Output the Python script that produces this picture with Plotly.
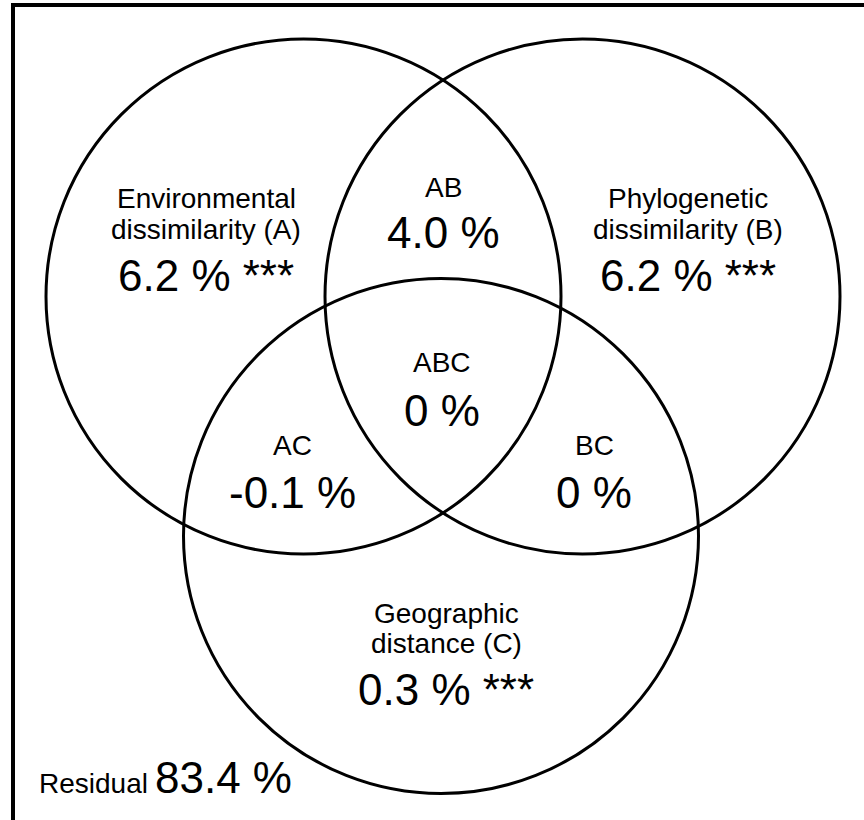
import plotly.graph_objects as go

# ---------------- data ----------------
region_ids = ["A", "B", "C", "AB", "AC", "BC", "ABC"]
region_titles = [
    ["Environmental", "dissimilarity (A)"],
    ["Phylogenetic", "dissimilarity (B)"],
    ["Geographic", "distance (C)"],
    ["AB"],
    ["AC"],
    ["BC"],
    ["ABC"],
]
region_values = [6.2, 6.2, 0.3, 4.0, -0.1, 0, 0]
region_signif = ["***", "***", "***", "", "", "", ""]
residual_label = "Residual"
residual_value = 83.4

# ---------------- layout (pixel frame) ----------------
W, H = 864, 820

circles = {"A": (303.5, 296.5), "B": (582.5, 296.5), "C": (441.0, 536.0)}
R = 257.5

# x centre, baselines of title lines, baseline of value line
text_pos = {
    "A": (206, [208, 239], 291),
    "B": (688, [208, 239], 291),
    "C": (446, [623, 653], 705),
    "AB": (443, [197], 248),
    "AC": (292, [455], 508),
    "BC": (594, [455], 508),
    "ABC": (442, [372], 425.5),
}
SMALL, BIG = 28.0, 44.0
FONT = "Liberation Sans, Arial, sans-serif"


def mid(baseline, size):
    return baseline - 0.3465 * size


def fmt(v):
    return "0" if v == 0 else f"{v:.1f}"


fig = go.Figure()
fig.add_trace(go.Scatter(x=[0, W], y=[0, H], mode="markers",
                         marker=dict(opacity=0), hoverinfo="skip", showlegend=False))

shapes = [dict(type="rect", xref="x", yref="y", x0=13, y0=5, x1=W + 9, y1=H + 16,
               line=dict(color="black", width=4), layer="above")]
for k, (cx, cy) in circles.items():
    shapes.append(dict(type="circle", xref="x", yref="y", x0=cx - R, x1=cx + R,
                       y0=cy - R, y1=cy + R, line=dict(color="black", width=3)))

annotations = []
for rid, titles, val, sig in zip(region_ids, region_titles, region_values, region_signif):
    x, title_bls, val_bl = text_pos[rid]
    for t, bl in zip(titles, title_bls):
        annotations.append(dict(x=x, y=mid(bl, SMALL), xref="x", yref="y", text=t,
                                showarrow=False, xanchor="center", yanchor="middle",
                                font=dict(family=FONT, size=SMALL, color="black")))
    vt = f"{fmt(val)} %" + (f" {sig}" if sig else "")
    annotations.append(dict(x=x, y=mid(val_bl, BIG), xref="x", yref="y", text=vt,
                            showarrow=False, xanchor="center", yanchor="middle",
                            font=dict(family=FONT, size=BIG, color="black")))

annotations.append(dict(x=37, y=mid(793, SMALL), xref="x", yref="y", text=residual_label,
                        showarrow=False, xanchor="left", yanchor="middle",
                        font=dict(family=FONT, size=SMALL, color="black")))
annotations.append(dict(x=153, y=mid(793, BIG), xref="x", yref="y", text=f"{residual_value} %",
                        showarrow=False, xanchor="left", yanchor="middle",
                        font=dict(family=FONT, size=BIG, color="black")))

fig.update_layout(
    width=W, height=H,
    margin=dict(l=0, r=0, t=0, b=0),
    paper_bgcolor="white", plot_bgcolor="white",
    xaxis=dict(range=[0, W], visible=False, fixedrange=True),
    yaxis=dict(range=[H, 0], visible=False, fixedrange=True),
    shapes=shapes, annotations=annotations, showlegend=False,
    hovermode=False,
)
fig.write_html(
    "out.html",
    config={"displayModeBar": False, "staticPlot": True},
    post_script="document.body.style.margin='0';document.body.style.overflow='hidden';",
)
